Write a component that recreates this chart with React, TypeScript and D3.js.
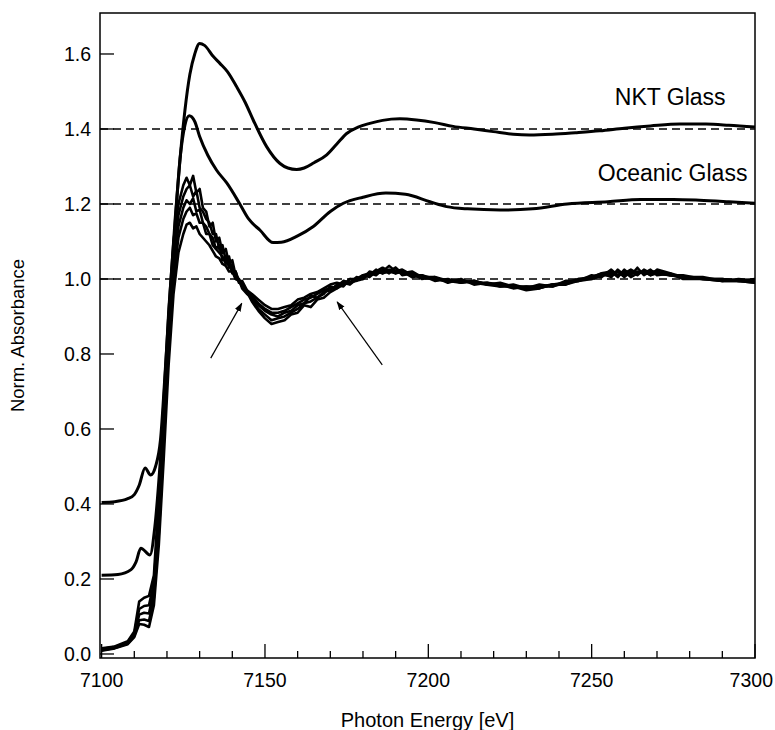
import React from "react";
import * as d3 from "d3";

// ---------- DATA ----------
const nktE = [7100, 7104, 7108, 7110, 7111.5, 7113.3, 7115, 7116.5, 7118, 7119.5, 7121, 7122.5, 7124, 7125.5, 7127, 7128.5, 7130, 7131.5, 7134.2, 7136.2, 7138.5, 7141.3, 7144, 7146.4, 7150.5, 7154.6, 7157, 7159.7, 7162, 7165, 7168.9, 7172, 7175, 7178.5, 7182.1, 7186, 7191.3, 7196.4, 7202, 7207.6, 7214, 7219.9, 7226, 7231, 7238, 7245, 7252.5, 7260, 7268, 7277, 7285, 7292, 7300];
const nktV = [0.404, 0.406, 0.414, 0.425, 0.45, 0.496, 0.477, 0.5, 0.57, 0.76, 0.97, 1.16, 1.32, 1.45, 1.545, 1.60, 1.628, 1.623, 1.593, 1.575, 1.553, 1.513, 1.47, 1.424, 1.353, 1.308, 1.296, 1.292, 1.296, 1.31, 1.331, 1.36, 1.388, 1.405, 1.415, 1.423, 1.427, 1.424, 1.417, 1.407, 1.40, 1.393, 1.386, 1.384, 1.386, 1.39, 1.395, 1.402, 1.408, 1.413, 1.413, 1.41, 1.405];

const oceE = [7100, 7105, 7109, 7110.5, 7112, 7114.8, 7116.3, 7118, 7120, 7122, 7124, 7125.5, 7126.8, 7128.5, 7130, 7132.5, 7135.2, 7138.3, 7142.3, 7145, 7148.5, 7152.5, 7155, 7160, 7164.8, 7170, 7174, 7180, 7187, 7193, 7200.5, 7205.6, 7212, 7222, 7232, 7242.5, 7255, 7265, 7275, 7283, 7292, 7300];
const oceV = [0.21, 0.212, 0.225, 0.245, 0.282, 0.264, 0.34, 0.52, 0.8, 1.08, 1.32, 1.41, 1.435, 1.42, 1.38, 1.33, 1.29, 1.256, 1.20, 1.16, 1.13, 1.097, 1.098, 1.115, 1.14, 1.18, 1.202, 1.218, 1.229, 1.226, 1.206, 1.193, 1.187, 1.184, 1.187, 1.2, 1.206, 1.212, 1.212, 1.21, 1.206, 1.202];

const sampleE = [
  7100, 7104, 7108, 7110, 7111.5, 7113, 7114.5, 7116, 7117.5, 7119,
  7120.5, 7122, 7123.5, 7125, 7126, 7127, 7128, 7129, 7130, 7131,
  7132, 7133, 7134, 7135, 7136, 7137, 7138, 7139, 7140, 7141,
  7142, 7143, 7144.5, 7146, 7148, 7150, 7152, 7154, 7156, 7158,
  7160, 7162, 7164, 7166, 7168, 7170, 7172, 7174, 7176, 7178,
  7180, 7182, 7184, 7186, 7188, 7190, 7192, 7195, 7198, 7202,
  7206, 7210, 7214, 7218, 7222, 7226, 7230, 7234, 7238, 7242,
  7246, 7250, 7253, 7256, 7258, 7260, 7262, 7264, 7266, 7268,
  7270, 7274, 7278, 7284, 7290, 7295, 7300,
];
const sample1 = [
  0.015, 0.02, 0.034, 0.06, 0.14, 0.15, 0.155, 0.21, 0.42, 0.68,
  0.92, 1.10, 1.20, 1.25, 1.27, 1.25, 1.275, 1.23, 1.24, 1.19,
  1.18, 1.14, 1.15, 1.10, 1.11, 1.07, 1.08, 1.04, 1.05, 1.01,
  1.0, 0.985, 0.965, 0.94, 0.915, 0.895, 0.88, 0.885, 0.89, 0.905,
  0.91, 0.93, 0.925, 0.945, 0.95, 0.965, 0.975, 0.985, 0.99, 0.995,
  1.01, 1.015, 1.02, 1.03, 1.02, 1.03, 1.015, 1.02, 1.005, 1.0,
  0.995, 0.995, 0.99, 0.985, 0.985, 0.98, 0.97, 0.975, 0.985, 0.99,
  0.995, 1.005, 1.015, 1.02, 1.005, 1.025, 1.01, 1.03, 1.01, 1.02,
  1.02, 1.01, 1.01, 1.0, 0.995, 0.995, 0.99,
];
const sample2 = [
  0.013, 0.019, 0.031, 0.055, 0.12, 0.128, 0.13, 0.19, 0.38, 0.64,
  0.89, 1.07, 1.17, 1.22, 1.24, 1.25, 1.22, 1.235, 1.19, 1.18,
  1.16, 1.15, 1.12, 1.12, 1.08, 1.09, 1.05, 1.06, 1.02, 1.02,
  0.99, 0.995, 0.97, 0.945, 0.92, 0.905, 0.89, 0.895, 0.9, 0.91,
  0.92, 0.935, 0.94, 0.95, 0.965, 0.97, 0.985, 0.98, 1.0, 0.995,
  1.0, 1.02, 1.015, 1.02, 1.035, 1.02, 1.025, 1.01, 1.01, 0.995,
  1.0, 0.99, 0.995, 0.985, 0.98, 0.985, 0.975, 0.98, 0.98, 0.995,
  0.995, 1.01, 1.005, 1.025, 1.01, 1.015, 1.025, 1.015, 1.02, 1.01,
  1.025, 1.015, 1.005, 1.005, 0.995, 0.995, 0.995,
];
const sample3 = [
  0.012, 0.018, 0.03, 0.052, 0.105, 0.11, 0.108, 0.17, 0.35, 0.6,
  0.85, 1.03, 1.14, 1.19, 1.21, 1.2, 1.215, 1.18, 1.185, 1.15,
  1.14, 1.12, 1.11, 1.08, 1.09, 1.05, 1.06, 1.03, 1.035, 1.0,
  1.0, 0.975, 0.96, 0.95, 0.93, 0.915, 0.905, 0.9, 0.91, 0.915,
  0.93, 0.935, 0.955, 0.95, 0.96, 0.98, 0.975, 0.99, 0.985, 1.0,
  1.005, 1.01, 1.025, 1.015, 1.02, 1.015, 1.02, 1.005, 1.01, 1.0,
  0.995, 0.995, 0.99, 0.99, 0.98, 0.98, 0.975, 0.985, 0.98, 0.99,
  1.0, 1.0, 1.01, 1.01, 1.02, 1.005, 1.02, 1.01, 1.025, 1.015,
  1.015, 1.01, 1.005, 1.0, 1.0, 0.995, 1.0,
];
const sample4 = [
  0.01, 0.016, 0.028, 0.048, 0.09, 0.092, 0.088, 0.15, 0.32, 0.56,
  0.81, 1.0, 1.11, 1.16, 1.18, 1.19, 1.17, 1.175, 1.15, 1.15,
  1.12, 1.12, 1.09, 1.08, 1.07, 1.06, 1.04, 1.045, 1.015, 1.02,
  0.995, 0.985, 0.965, 0.955, 0.935, 0.92, 0.91, 0.91, 0.915, 0.925,
  0.935, 0.945, 0.95, 0.96, 0.97, 0.975, 0.98, 0.995, 0.99, 1.005,
  1.0, 1.015, 1.01, 1.025, 1.015, 1.03, 1.01, 1.015, 1.0, 1.005,
  0.99, 1.0, 0.985, 0.99, 0.985, 0.975, 0.98, 0.98, 0.985, 0.985,
  1.0, 1.005, 1.015, 1.005, 1.025, 1.01, 1.015, 1.02, 1.015, 1.025,
  1.01, 1.015, 1.0, 1.0, 0.995, 1.0, 0.995,
];
const sample5 = [
  0.009, 0.015, 0.026, 0.045, 0.08, 0.078, 0.072, 0.13, 0.29, 0.52,
  0.77, 0.96, 1.07, 1.12, 1.145, 1.15, 1.135, 1.14, 1.12, 1.11,
  1.10, 1.09, 1.075, 1.06, 1.055, 1.04, 1.035, 1.02, 1.02, 1.0,
  0.995, 0.98, 0.97, 0.96, 0.945, 0.93, 0.92, 0.92, 0.925, 0.93,
  0.945, 0.95, 0.96, 0.965, 0.975, 0.985, 0.99, 0.985, 1.0, 1.0,
  1.01, 1.005, 1.02, 1.015, 1.025, 1.015, 1.02, 1.01, 1.005, 1.005,
  0.995, 0.99, 0.995, 0.985, 0.99, 0.98, 0.98, 0.975, 0.985, 0.985,
  0.995, 1.0, 1.01, 1.015, 1.01, 1.02, 1.005, 1.015, 1.02, 1.01,
  1.015, 1.01, 1.005, 1.0, 1.0, 0.995, 0.99,
];
const samples = [sample1, sample2, sample3, sample4, sample5];

const referenceLevels = [1.0, 1.2, 1.4];
const yTicks = [0.0, 0.2, 0.4, 0.6, 0.8, 1.0, 1.2, 1.4, 1.6];
const xMajorTicks = [7100, 7150, 7200, 7250, 7300];
const xMinorTicks = d3.range(7110, 7300, 10).filter((t) => t % 50 !== 0);

const curveLabels = [
  { text: "NKT Glass", e: 7257.1, v: 1.464 },
  { text: "Oceanic Glass", e: 7251.9, v: 1.261 },
];
// arrows: [fromE, fromV, toE, toV]
const arrows = [
  [7133.4, 0.789, 7142.9, 0.935],
  [7185.9, 0.771, 7172.1, 0.939],
];

// ---------- LAYOUT ----------
const W = 775;
const H = 730;
const left = 100;
const right = 755;
const top = 13;
const bottom = 658;
const font = "Arial, 'Liberation Sans', Helvetica, sans-serif";

export default function App() {
  const x = d3.scaleLinear().domain([7099.5, 7300]).range([left, right]);
  const y = d3.scaleLinear().domain([-0.0107, 1.7093]).range([bottom, top]);

  const smooth = d3
    .line<[number, number]>()
    .x((d) => x(d[0]))
    .y((d) => y(d[1]))
    .curve(d3.curveMonotoneX);
  const linear = d3
    .line<[number, number]>()
    .x((d) => x(d[0]))
    .y((d) => y(d[1]));

  const nkt = nktE.map((e, i) => [e, nktV[i]] as [number, number]);
  const oce = oceE.map((e, i) => [e, oceV[i]] as [number, number]);

  return (
    <svg
      width={W}
      height={H}
      style={{ position: "absolute", left: 0, top: 0, background: "#fff" }}
      fontFamily={font}
    >
      <defs>
        <marker id="ah" viewBox="0 0 10 10" refX="9" refY="5" markerWidth="9" markerHeight="9" orient="auto" markerUnits="userSpaceOnUse">
          <path d="M0,1.5 L10,5 L0,8.5 Z" fill="#000" />
        </marker>
        <clipPath id="plot">
          <rect x={left} y={top} width={right - left} height={bottom - top} />
        </clipPath>
      </defs>
      <rect x={0} y={0} width={W} height={H} fill="#fff" />

      {/* dashed reference lines */}
      {referenceLevels.map((v) => (
        <line key={v} x1={left} x2={right} y1={y(v)} y2={y(v)} stroke="#000" strokeWidth={1.4} strokeDasharray="8,5" />
      ))}

      <g clipPath="url(#plot)" fill="none" stroke="#000" strokeLinejoin="round">
        {samples.map((s, k) => (
          <path key={k} d={linear(sampleE.map((e, i) => [e, s[i]] as [number, number])) || ""} strokeWidth={2.6} />
        ))}
        <path d={smooth(oce) || ""} strokeWidth={3} />
        <path d={smooth(nkt) || ""} strokeWidth={3} />
      </g>

      {/* arrows */}
      {arrows.map((a, i) => (
        <line key={i} x1={x(a[0])} y1={y(a[1])} x2={x(a[2])} y2={y(a[3])} stroke="#000" strokeWidth={1.2} markerEnd="url(#ah)" />
      ))}

      {/* frame */}
      <rect x={left} y={top} width={right - left} height={bottom - top} fill="none" stroke="#000" strokeWidth={1.5} />

      {/* y ticks */}
      {yTicks.map((t) => (
        <g key={t}>
          <line x1={left} x2={left + 14} y1={y(t)} y2={y(t)} stroke="#000" strokeWidth={1.3} />
          <text x={91} y={y(t)} dy="0.36em" textAnchor="end" fontSize={19.5}>
            {t.toFixed(1)}
          </text>
        </g>
      ))}

      {/* x ticks */}
      {xMajorTicks.map((t, i) => {
        const last = i === xMajorTicks.length - 1;
        return (
          <g key={t}>
            <line x1={x(t)} x2={x(t)} y1={bottom} y2={bottom - 14} stroke="#000" strokeWidth={1.3} />
            <text x={last ? W - 2 : x(t)} y={687} textAnchor={last ? "end" : "middle"} fontSize={19.5}>
              {t}
            </text>
          </g>
        );
      })}
      {xMinorTicks.map((t) => (
        <line key={t} x1={x(t)} x2={x(t)} y1={bottom} y2={bottom - 7} stroke="#000" strokeWidth={1.3} />
      ))}

      {/* curve labels */}
      {curveLabels.map((l) => (
        <text key={l.text} x={x(l.e)} y={y(l.v)} fontSize={23}>
          {l.text}
        </text>
      ))}

      {/* axis titles */}
      <text x={(left + right) / 2} y={727} textAnchor="middle" fontSize={20}>
        Photon Energy [eV]
      </text>
      <text transform={`translate(24, ${(top + bottom) / 2}) rotate(-90)`} textAnchor="middle" fontSize={18.5}>
        Norm. Absorbance
      </text>
    </svg>
  );
}
